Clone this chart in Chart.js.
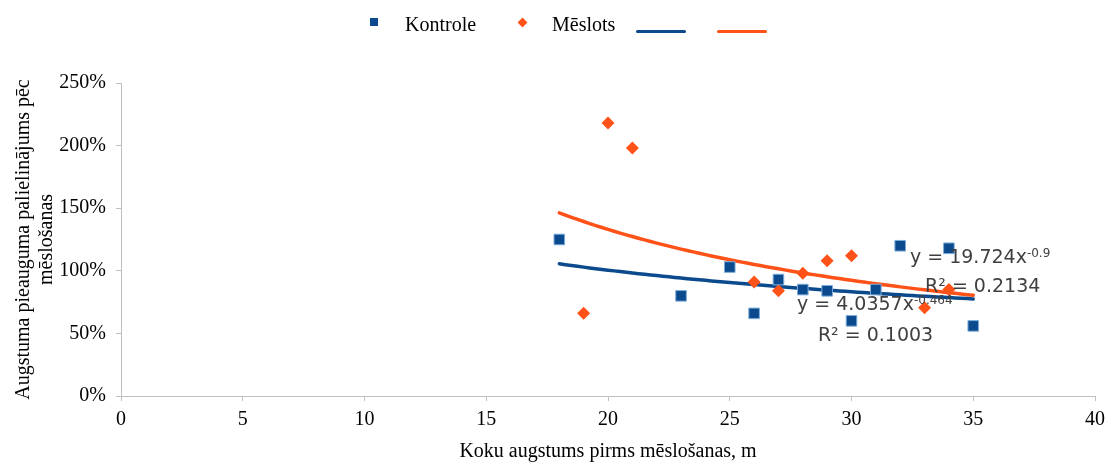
<!DOCTYPE html>
<html lang="lv">
<head>
<meta charset="utf-8">
<title>Augstuma pieaugums pēc mēslošanas</title>
<script src="https://cdn.jsdelivr.net/npm/chart.js@4.4.1/dist/chart.umd.min.js"></script>
<style>
  body { margin: 0; background: #fff; }
  #wrap { position: relative; width: 1112px; height: 463px; }
  #customLegend {
    position: absolute; left: 0; top: 0; width: 1112px; height: 40px;
    font-family: "Liberation Serif", "Times New Roman", serif; font-size: 20px; line-height: 23px; color: #000;
  }
  #customLegend > div { position: absolute; }
  .legend-square { width: 8px; height: 8px; background: #0B4A8C; }
  .legend-diamond { width: 7px; height: 7px; background: #FF5218; transform: rotate(45deg); }
  .legend-line { width: 50px; height: 3px; border-radius: 1.5px; }
</style>
</head>
<body>
<div id="wrap">
  <canvas id="scatterChart" width="1112" height="463"></canvas>
  <div id="customLegend"></div>
</div>
<script>
// Kontrole: tree height before fertilising (m) vs. height growth increase
var kontroleX = [18, 23, 25, 26, 27, 28, 29, 30, 31, 32, 34, 35];
var kontroleY = [125, 80, 103, 66, 93, 85, 84, 60, 85, 120, 118, 56];

// Mēslots
var meslotsX = [19, 20, 21, 26, 27, 28, 29, 30, 33, 34];
var meslotsY = [66, 218, 198, 91, 84, 98, 108, 112, 70.5, 85];

// power trendlines y = a * x^b (as fractions), and R²
var kontroleFit = [4.0357, -0.464];
var meslotsFit = [19.724, -0.9];
var kontroleR2 = '0.1003';
var meslotsR2 = '0.2134';
var fitRange = [18, 35];

// axis ticks
var xTicks = [0, 5, 10, 15, 20, 25, 30, 35, 40];
var yTicks = [0, 50, 100, 150, 200, 250];

var BLUE = '#0B4A8C';
var ORANGE = '#FF5218';

function toPoints(xs, ys) {
    return xs.map(function (x, i) { return { x: x, y: ys[i] }; });
}

function trendPoints(fit) {
    var pts = [];
    for (var x = fitRange[0]; x <= fitRange[1] + 1e-9; x += 0.25) {
        pts.push({ x: x, y: fit[0] * Math.pow(x, fit[1]) * 100 });
    }
    return pts;
}

// equation labels next to the trendlines
var fitLabels = {
    id: 'fitLabels',
    afterDatasetsDraw: function (chart, args, opts) {
        var ctx = chart.ctx;
        var sx = chart.scales.x, sy = chart.scales.y;
        ctx.save();
        ctx.fillStyle = '#404040';
        ctx.textBaseline = 'alphabetic';
        ctx.textAlign = 'left';
        opts.items.forEach(function (it) {
            var px = sx.getPixelForValue(it.x);
            var py = sy.getPixelForValue(it.y);
            ctx.font = '19px "DejaVu Sans", sans-serif';
            ctx.fillText(it.text, px, py);
            if (it.sup) {
                var w = ctx.measureText(it.text).width;
                ctx.font = '12px "DejaVu Sans", sans-serif';
                ctx.fillText(it.sup, px + w, py - 6);
            }
        });
        ctx.restore();
    }
};

var serif = '"Liberation Serif", "Times New Roman", serif';

var ctx = document.getElementById('scatterChart').getContext('2d');
var chart = new Chart(ctx, {
    type: 'scatter',
    data: {
        datasets: [
            {
                label: 'Kontrole',
                data: toPoints(kontroleX, kontroleY),
                pointStyle: 'rect',
                pointRadius: 7.5,
                backgroundColor: BLUE,
                borderColor: '#7FAEDC',
                borderWidth: 1
            },
            {
                label: 'Mēslots',
                data: toPoints(meslotsX, meslotsY),
                pointStyle: 'rectRot',
                pointRadius: 6.5,
                backgroundColor: ORANGE,
                borderColor: ORANGE,
                borderWidth: 0
            },
            {
                label: '',
                data: trendPoints(kontroleFit),
                showLine: true,
                pointRadius: 0,
                borderColor: BLUE,
                borderWidth: 3.5,
                borderCapStyle: 'round',
                tension: 0
            },
            {
                label: '',
                data: trendPoints(meslotsFit),
                showLine: true,
                pointRadius: 0,
                borderColor: ORANGE,
                borderWidth: 3.5,
                borderCapStyle: 'round',
                tension: 0
            }
        ]
    },
    options: {
        responsive: false,
        animation: false,
        layout: { padding: { top: 83, right: 17, left: 0, bottom: 0 } },
        scales: {
            x: {
                type: 'linear',
                min: xTicks[0],
                max: xTicks[xTicks.length - 1],
                afterBuildTicks: function (scale) {
                    scale.ticks = xTicks.map(function (v) { return { value: v }; });
                },
                afterFit: function (scale) { scale.height = 67; },
                grid: { drawOnChartArea: false, color: '#BFBFBF', tickLength: 5 },
                border: { color: '#BFBFBF' },
                ticks: {
                    color: '#000',
                    padding: 7,
                    maxRotation: 0,
                    font: { family: serif, size: 20, lineHeight: 1.15 }
                },
                title: {
                    display: true,
                    text: 'Koku augstums pirms mēslošanas, m',
                    color: '#000',
                    padding: { top: 0, bottom: 0 },
                    font: { family: serif, size: 20, lineHeight: 1.15 }
                }
            },
            y: {
                min: yTicks[0],
                max: yTicks[yTicks.length - 1],
                afterBuildTicks: function (scale) {
                    scale.ticks = yTicks.map(function (v) { return { value: v }; });
                },
                afterFit: function (scale) { scale.width = 121; },
                grid: { drawOnChartArea: false, color: '#BFBFBF', tickLength: 5 },
                border: { color: '#BFBFBF' },
                ticks: {
                    color: '#000',
                    padding: 10,
                    font: { family: serif, size: 20, lineHeight: 1.15 },
                    callback: function (v) { return v + '%'; }
                },
                title: {
                    display: true,
                    text: ['Augstuma pieauguma palielinājums pēc', 'mēslošanas'],
                    color: '#000',
                    padding: { top: 12.5, bottom: 0 },
                    font: { family: serif, size: 20, lineHeight: 1.15 }
                }
            }
        },
        plugins: {
            legend: { display: false },
            tooltip: { enabled: false },
            fitLabels: {
                items: [
                    { x: 32.4, y: 106.5, text: 'y = ' + meslotsFit[0] + 'x', sup: String(meslotsFit[1]) },
                    { x: 33.02, y: 82.8, text: 'R² = ' + meslotsR2 },
                    { x: 27.76, y: 68.7, text: 'y = ' + kontroleFit[0] + 'x', sup: String(kontroleFit[1]) },
                    { x: 28.62, y: 44.2, text: 'R² = ' + kontroleR2 }
                ]
            }
        }
    },
    plugins: [fitLabels]
});

// legend row above the plot
var legend = document.getElementById('customLegend');
var legendItems = [
    { cls: 'legend-square', left: 370, top: 18 },
    { text: 'Kontrole', left: 405, top: 13 },
    { cls: 'legend-diamond', left: 518.5, top: 18.5 },
    { text: 'Mēslots', left: 552, top: 13 },
    { cls: 'legend-line', left: 636, top: 29.5, color: BLUE },
    { cls: 'legend-line', left: 717, top: 29.5, color: ORANGE }
];
legendItems.forEach(function (it) {
    var el = document.createElement('div');
    if (it.cls) el.className = it.cls;
    if (it.text) el.textContent = it.text;
    if (it.color) el.style.backgroundColor = it.color;
    el.style.left = it.left + 'px';
    el.style.top = it.top + 'px';
    legend.appendChild(el);
});
</script>
</body>
</html>
